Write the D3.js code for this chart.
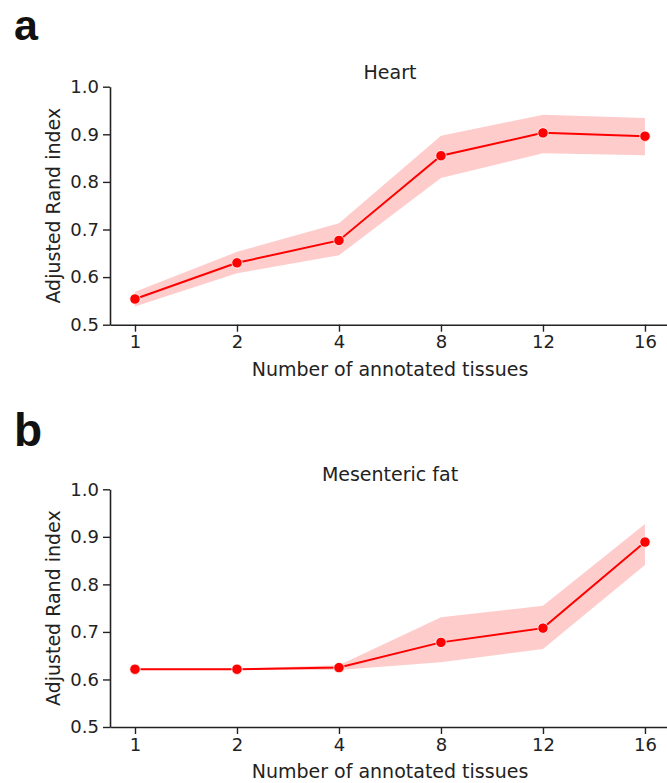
<!DOCTYPE html>
<html><head><meta charset="utf-8">
<script src="https://cdn.jsdelivr.net/npm/d3@7"></script>
<style>body{margin:0;background:#fff}svg{display:block}</style>
</head><body>
<svg id="c" width="667" height="783"></svg>
<script>
const categories = ["1","2","4","8","12","16"];
const yTicks = [0.5,0.6,0.7,0.8,0.9,1.0];
const heartMean = [0.554,0.630,0.677,0.855,0.903,0.896];
const heartLow  = [0.538,0.608,0.646,0.808,0.860,0.856];
const heartHigh = [0.569,0.653,0.713,0.897,0.941,0.934];
const fatMean = [0.6215,0.6215,0.625,0.678,0.708,0.889];
const fatLow  = [0.620,0.620,0.620,0.636,0.664,0.841];
const fatHigh = [0.623,0.623,0.630,0.731,0.755,0.927];

const svg = d3.select("#c");
const FONT = "DejaVu Sans, sans-serif";
const INK = "#222";

function panel(o){
  const g = svg.append("g");
  const x = d3.scaleLinear().domain([-0.245, 5.216]).range([110, 667]);
  const y = d3.scaleLinear().domain([0.5, 1.0]).range([o.bottom, o.top]);
  const idx = categories.map((c,i)=>i);

  const area = d3.area().x(i=>x(i)).y0(i=>y(o.low[i])).y1(i=>y(o.high[i]));
  g.append("path").datum(idx).attr("d", area)
    .attr("fill","rgba(255,0,0,0.2)").attr("stroke","none");
  const line = d3.line().x(i=>x(i)).y(i=>y(o.mean[i]));
  g.append("path").datum(idx).attr("d", line)
    .attr("fill","none").attr("stroke","#ff0000").attr("stroke-width",2);
  g.selectAll("circle.m").data(idx).join("circle")
    .attr("cx",i=>x(i)).attr("cy",i=>y(o.mean[i])).attr("r",5.2)
    .attr("fill","#ff0000").attr("stroke","#fff").attr("stroke-width",0.8);

  const xa = g.append("g").attr("transform",`translate(0,${o.bottom})`)
    .call(d3.axisBottom(x).tickValues(idx).tickFormat(i=>categories[i]).tickSize(7).tickSizeOuter(0).tickPadding(4));
  const ya = g.append("g").attr("transform",`translate(110,0)`)
    .call(d3.axisLeft(y).tickValues(yTicks).tickFormat(d3.format(".1f")).tickSize(7).tickSizeOuter(0).tickPadding(4));
  [xa,ya].forEach(a=>{
    a.select(".domain").attr("stroke",INK).attr("stroke-width",1.6);
    a.selectAll(".tick line").attr("stroke",INK).attr("stroke-width",1.4);
    a.selectAll(".tick text").attr("fill",INK).style("font-family",FONT).style("font-size","18px");
  });

  g.append("text").attr("x",390).attr("y",o.bottom+51).attr("text-anchor","middle")
    .style("font-family",FONT).style("font-size","19px").attr("fill",INK).text("Number of annotated tissues");
  g.append("text").attr("transform",`translate(60,${(o.top+o.bottom)/2}) rotate(-90)`).attr("text-anchor","middle")
    .style("font-family",FONT).style("font-size","19px").attr("fill",INK).text("Adjusted Rand index");
  g.append("text").attr("x",390).attr("y",o.top-8).attr("text-anchor","middle")
    .style("font-family",FONT).style("font-size","19px").attr("fill",INK).text(o.title);
  svg.append("text").attr("x",14).attr("y",o.letterY)
    .style("font-family","Liberation Sans, Arial, sans-serif").style("font-weight","bold").style("font-size",o.letterSize+"px")
    .attr("fill","#111").text(o.letter);
}

panel({top:86.7,bottom:324.7,mean:heartMean,low:heartLow,high:heartHigh,title:"Heart",letter:"a",letterY:39.5,letterSize:43});
panel({top:489.3,bottom:727,mean:fatMean,low:fatLow,high:fatHigh,title:"Mesenteric fat",letter:"b",letterY:446,letterSize:46});
</script>
</body></html>
